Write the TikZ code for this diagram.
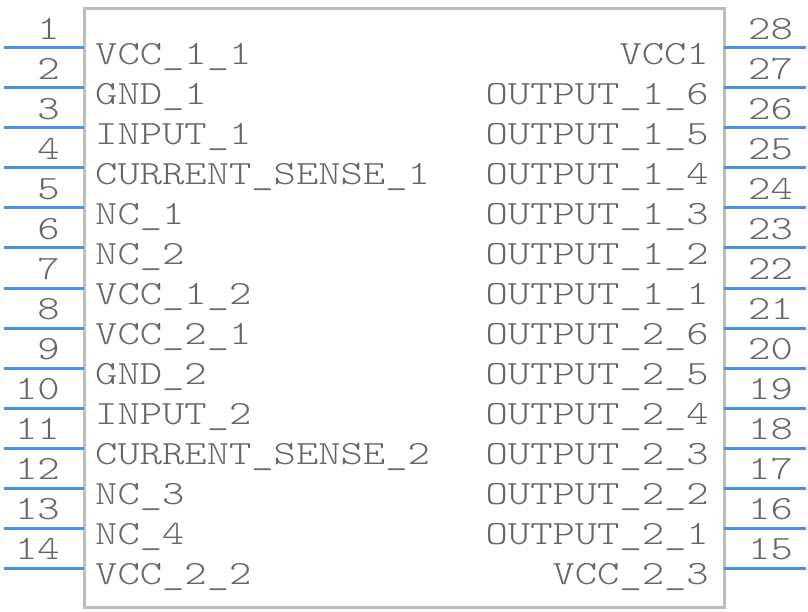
\documentclass[tikz,border=0pt]{standalone}
\usepackage{fontspec}
\newfontfamily\pinfont{lmmonolt10-regular.otf}[FakeStretch=1.25]
\definecolor{pinblue}{RGB}{74,144,226}
\definecolor{boxgray}{RGB}{190,190,190}
\definecolor{txtgray}{RGB}{102,102,102}
\begin{document}
\begin{tikzpicture}[x=1pt,y=-1pt,
  pin/.style={draw=pinblue,line width=3pt},
  lbl/.style={inner sep=0pt,text=txtgray,font=\pinfont\fontsize{34}{40}\selectfont},
  lnum/.style={lbl,anchor=base east},
  rnum/.style={lbl,anchor=base west},
  llab/.style={lbl,anchor=base west},
  rlab/.style={lbl,anchor=base east}]
\useasboundingbox (0,0) rectangle (808,612);
\draw[boxgray,line width=3pt] (84,8.5) rectangle (724.5,607.5);
\foreach \i/\t in {1/VCC\_1\_1,2/GND\_1,3/INPUT\_1,4/CURRENT\_SENSE\_1,5/NC\_1,6/NC\_2,7/VCC\_1\_2,8/VCC\_2\_1,9/GND\_2,10/INPUT\_2,11/CURRENT\_SENSE\_2,12/NC\_3,13/NC\_4,14/VCC\_2\_2}{
  \pgfmathsetmacro{\yy}{48+40*(\i-1)}
  \coordinate (lo\i) at (4,\yy);
  \coordinate (li\i) at (84,\yy);
  \draw[pin] (lo\i) -- (li\i);
  \node[lnum] (ln\i) at (60,\yy-8.5) {\i};
  \node[llab] (ll\i) at (95,\yy+16.5) {\t};
}
\foreach \i/\t in {28/VCC1,27/OUTPUT\_1\_6,26/OUTPUT\_1\_5,25/OUTPUT\_1\_4,24/OUTPUT\_1\_3,23/OUTPUT\_1\_2,22/OUTPUT\_1\_1,21/OUTPUT\_2\_6,20/OUTPUT\_2\_5,19/OUTPUT\_2\_4,18/OUTPUT\_2\_3,17/OUTPUT\_2\_2,16/OUTPUT\_2\_1,15/VCC\_2\_3}{
  \pgfmathsetmacro{\yy}{48+40*(28-\i)}
  \coordinate (ro\i) at (806,\yy);
  \coordinate (ri\i) at (724,\yy);
  \draw[pin] (ri\i) -- (ro\i);
  \node[rnum] (rn\i) at (748,\yy-8.5) {\i};
  \node[rlab] (rl\i) at (709,\yy+16.5) {\t};
}
\end{tikzpicture}
\end{document}
